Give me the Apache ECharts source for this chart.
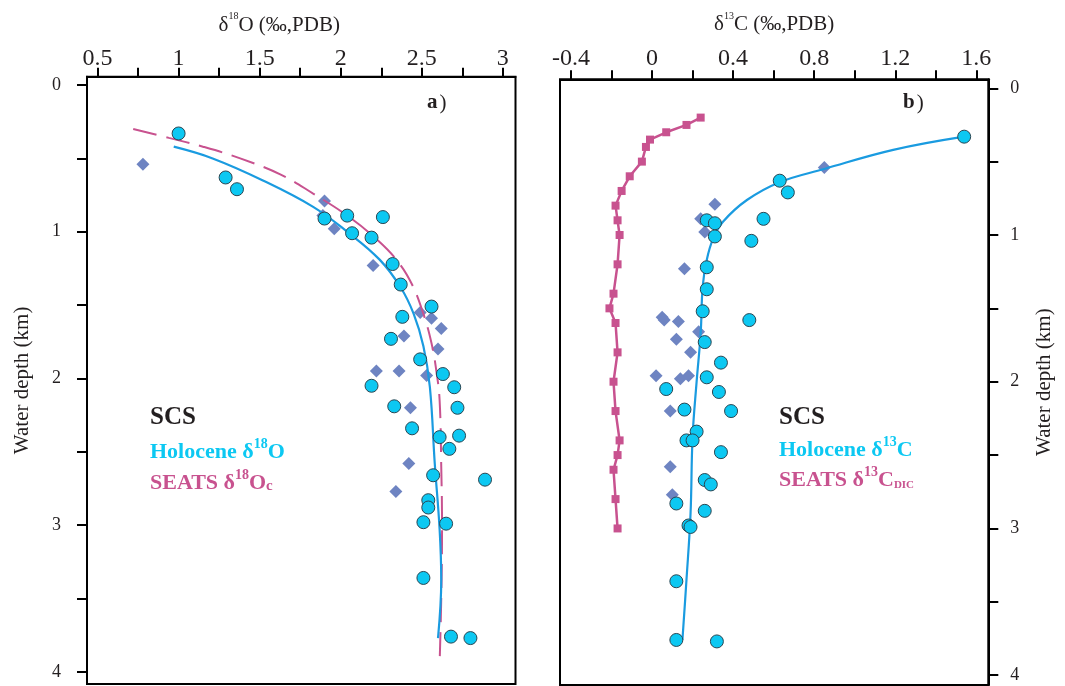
<!DOCTYPE html>
<html>
<head>
<meta charset="utf-8">
<script src="https://cdn.jsdelivr.net/npm/echarts@6/dist/echarts.min.js"></script>
<style>
  html, body { margin: 0; padding: 0; background: #fff; }
  #main { width: 1065px; height: 686px; }
</style>
</head>
<body>
<div id="main"></div>
<script>
// ---- tick values ----
var o18Ticks = [0.5, 0.75, 1, 1.25, 1.5, 1.75, 2, 2.25, 2.5, 2.75, 3];
var o18Labels = [0.5, 1, 1.5, 2, 2.5, 3];
var c13Ticks = [-0.4, -0.2, 0, 0.2, 0.4, 0.6, 0.8, 1, 1.2, 1.4, 1.6];
var c13Labels = [-0.4, 0, 0.4, 0.8, 1.2, 1.6];
var depthTicks = [0, 0.5, 1, 1.5, 2, 2.5, 3, 3.5, 4];
var depthLabels = [0, 1, 2, 3, 4];

// ---- panel a: d18O [value, depth km] ----
var holoO18 = [
  [1.00, 0.33], [1.29, 0.63], [1.36, 0.71], [1.90, 0.91], [2.04, 0.89], [2.26, 0.90],
  [2.07, 1.01], [2.19, 1.04], [2.32, 1.22], [2.37, 1.36], [2.56, 1.51], [2.38, 1.58],
  [2.31, 1.73], [2.49, 1.87], [2.63, 1.97], [2.19, 2.05], [2.70, 2.06], [2.33, 2.19],
  [2.72, 2.20], [2.44, 2.34], [2.61, 2.40], [2.73, 2.39], [2.67, 2.48], [2.57, 2.66],
  [2.89, 2.69], [2.54, 2.83], [2.54, 2.88], [2.51, 2.98], [2.65, 2.99], [2.51, 3.36],
  [2.68, 3.76], [2.80, 3.77]
];
var otherO18 = [
  [0.78, 0.54], [1.90, 0.79], [1.89, 0.89], [1.96, 0.98], [2.20, 1.23], [2.38, 1.58],
  [2.49, 1.55], [2.56, 1.59], [2.62, 1.66], [2.39, 1.71], [2.60, 1.80], [2.22, 1.95],
  [2.36, 1.95], [2.53, 1.98], [2.43, 2.20], [2.42, 2.58], [2.34, 2.77]
];
var fitO18 = [
  [0.97, 0.42], [1.21, 0.50], [1.52, 0.65], [1.83, 0.83], [2.04, 1.00], [2.24, 1.19],
  [2.37, 1.38], [2.45, 1.56], [2.51, 1.78], [2.55, 2.06], [2.58, 2.58], [2.61, 3.03],
  [2.62, 3.37], [2.60, 3.77]
];
var seatsO18 = [
  [0.72, 0.30], [0.94, 0.36], [1.15, 0.42], [1.38, 0.50], [1.63, 0.61], [1.83, 0.74],
  [2.04, 0.89], [2.22, 1.05], [2.35, 1.20], [2.44, 1.36], [2.51, 1.56], [2.56, 1.76],
  [2.59, 1.95], [2.61, 2.15], [2.62, 2.60], [2.625, 3.00], [2.62, 3.50], [2.61, 3.94]
];

// ---- panel b: d13C [value, depth km] ----
var holoC13 = [
  [1.54, 0.33], [0.63, 0.63], [0.67, 0.71], [0.55, 0.89], [0.27, 0.90], [0.31, 0.92],
  [0.31, 1.01], [0.49, 1.04], [0.27, 1.22], [0.27, 1.37], [0.25, 1.52], [0.48, 1.58],
  [0.26, 1.73], [0.34, 1.87], [0.27, 1.97], [0.07, 2.05], [0.33, 2.07], [0.16, 2.19],
  [0.39, 2.20], [0.22, 2.34], [0.17, 2.40], [0.20, 2.40], [0.34, 2.48], [0.26, 2.67],
  [0.29, 2.70], [0.12, 2.83], [0.26, 2.88], [0.18, 2.98], [0.19, 2.99], [0.12, 3.36],
  [0.12, 3.76], [0.32, 3.77]
];
var otherC13 = [
  [0.85, 0.54], [0.31, 0.79], [0.24, 0.89], [0.26, 0.98], [0.16, 1.23], [0.05, 1.56],
  [0.06, 1.58], [0.13, 1.59], [0.23, 1.66], [0.12, 1.71], [0.19, 1.80], [0.02, 1.96],
  [0.14, 1.98], [0.18, 1.96], [0.09, 2.20], [0.09, 2.58], [0.10, 2.77]
];
var fitC13 = [
  [1.54, 0.33], [1.19, 0.42], [0.85, 0.55], [0.63, 0.64], [0.47, 0.76], [0.35, 0.91],
  [0.30, 1.03], [0.27, 1.17], [0.25, 1.35], [0.24, 1.67], [0.22, 2.00], [0.20, 2.38],
  [0.19, 2.90], [0.17, 3.35], [0.15, 3.76]
];
var seatsC13 = [
  [0.24, 0.20], [0.17, 0.25], [0.07, 0.30], [-0.01, 0.35], [-0.03, 0.40], [-0.05, 0.50],
  [-0.11, 0.60], [-0.15, 0.70], [-0.18, 0.80], [-0.17, 0.90], [-0.16, 1.00], [-0.17, 1.20],
  [-0.19, 1.40], [-0.21, 1.50], [-0.18, 1.60], [-0.17, 1.80], [-0.19, 2.00], [-0.18, 2.20],
  [-0.16, 2.40], [-0.17, 2.50], [-0.19, 2.60], [-0.18, 2.80], [-0.17, 3.00]
];

var SERIF = '"Liberation Serif", "Times New Roman", serif';
var INK = '#231f20';
var CYAN = '#0cc8f2';
var FIT = '#1a9be0';
var DIAM = '#6e84c2';
var PINK = '#c8528f';

var nameRich = {
  t: { fontFamily: SERIF, fontSize: 21, color: INK, lineHeight: 24, verticalAlign: 'bottom' },
  s: { fontFamily: SERIF, fontSize: 10, color: INK, lineHeight: 10, verticalAlign: 'top' }
};

function xAxis(grid, min, max, ticks, labels, name, gap, margin, pad) {
  return {
    type: 'value', gridIndex: grid, position: 'top', min: min, max: max,
    name: name, nameLocation: 'middle', nameGap: gap,
    nameTextStyle: { fontFamily: SERIF, fontSize: 21, color: INK, rich: nameRich, padding: pad },
    axisLine: { onZero: false, lineStyle: { color: '#000', width: 2 } },
    axisTick: { show: true, length: 9, customValues: ticks, lineStyle: { color: '#000', width: 2 } },
    axisLabel: { customValues: labels, margin: margin, fontFamily: SERIF, fontSize: 24, color: INK,
      formatter: function (v) { return String(v); } },
    splitLine: { show: false }
  };
}

function yAxis(grid, pos, min, max, gap, margin) {
  return {
    type: 'value', gridIndex: grid, position: pos, inverse: true, min: min, max: max,
    name: 'Water depth (km)', nameLocation: 'middle', nameGap: gap, nameRotate: 90,
    nameTextStyle: { fontFamily: SERIF, fontSize: 21, color: INK },
    axisLine: { onZero: false, lineStyle: { color: '#000', width: 2 } },
    axisTick: { show: true, length: 10, customValues: depthTicks, lineStyle: { color: '#000', width: 2 } },
    axisLabel: { customValues: depthLabels, margin: margin, fontFamily: SERIF, fontSize: 18, color: INK },
    splitLine: { show: false }
  };
}

function legendText(x, y, text, rich) {
  return { type: 'text', x: x, y: y, silent: true,
    style: { text: text, rich: rich, verticalAlign: 'middle', align: 'left' } };
}

function legendRich(color) {
  return {
    m: { fontFamily: SERIF, fontSize: 22, fontWeight: 'bold', fill: color, lineHeight: 26, verticalAlign: 'bottom' },
    s: { fontFamily: SERIF, fontSize: 14, fontWeight: 'bold', fill: color, lineHeight: 14, verticalAlign: 'top' },
    c: { fontFamily: SERIF, fontSize: 15, fontWeight: 'bold', fill: color, lineHeight: 20, verticalAlign: 'bottom' },
    d: { fontFamily: SERIF, fontSize: 11, fontWeight: 'bold', fill: color, lineHeight: 19, verticalAlign: 'bottom' }
  };
}
var scsRich = { b: { fontFamily: SERIF, fontSize: 25, fontWeight: 'bold', fill: INK } };

function circles(data, gi) {
  return { type: 'scatter', xAxisIndex: gi, yAxisIndex: gi, data: data, symbol: 'circle', symbolSize: 13,
    itemStyle: { color: CYAN, borderColor: '#2b4652', borderWidth: 1, opacity: 1 }, z: 4 };
}
function diamonds(data, gi) {
  return { type: 'scatter', xAxisIndex: gi, yAxisIndex: gi, data: data, symbol: 'diamond', symbolSize: 13,
    itemStyle: { color: DIAM, opacity: 1 }, z: 2 };
}
function fitLine(data, gi) {
  return { type: 'line', xAxisIndex: gi, yAxisIndex: gi, data: data, smooth: 0.4, showSymbol: false, symbol: 'none',
    lineStyle: { color: FIT, width: 2.2 }, z: 3 };
}

var chart = echarts.init(document.getElementById('main'));
chart.setOption({
  animation: false,
  backgroundColor: '#fff',
  grid: [
    { left: 87, top: 76.7, width: 428.5, height: 607.3, show: true, borderColor: '#000', borderWidth: 2 },
    { left: 560, top: 79.3, width: 428.3, height: 605.7, show: true, borderColor: '#000', borderWidth: 2 }
  ],
  xAxis: [
    xAxis(0, 0.435, 3.078, o18Ticks, o18Labels, '{t|δ}{s|18}{t|O (‰,PDB)}', 41, 6, [0, 44, 0, 0]),
    xAxis(1, -0.454, 1.659, c13Ticks, c13Labels, '{t|δ}{s|13}{t|C (‰,PDB)}', 44, 9, [0, 0, 0, 0])
  ],
  yAxis: [
    yAxis(0, 'left', -0.057, 4.083, 54, 26),
    yAxis(1, 'right', -0.061, 4.067, 46, 22)
  ],
  graphic: [
    { type: 'text', x: 427, y: 103, style: { text: '{b|a}{p|)}', verticalAlign: 'middle',
      rich: { b: { fontFamily: SERIF, fontSize: 21, fontWeight: 'bold', fill: INK }, p: { fontFamily: SERIF, fontSize: 21, fill: INK, padding: [0, 0, 0, 2] } } } },
    { type: 'text', x: 903, y: 103, style: { text: '{b|b}{p|)}', verticalAlign: 'middle',
      rich: { b: { fontFamily: SERIF, fontSize: 21, fontWeight: 'bold', fill: INK }, p: { fontFamily: SERIF, fontSize: 21, fill: INK, padding: [0, 0, 0, 2] } } } },
    legendText(150, 418, '{b|SCS}', scsRich),
    legendText(150, 450, '{m|Holocene δ}{s|18}{m|O}', legendRich(CYAN)),
    legendText(150, 481, '{m|SEATS δ}{s|18}{m|O}{c|c}', legendRich(PINK)),
    legendText(779, 418, '{b|SCS}', scsRich),
    legendText(779, 448, '{m|Holocene δ}{s|13}{m|C}', legendRich(CYAN)),
    legendText(779, 478, '{m|SEATS δ}{s|13}{m|C}{d|DIC}', legendRich(PINK))
  ],
  series: [
    diamonds(otherO18, 0),
    { type: 'line', xAxisIndex: 0, yAxisIndex: 0, data: seatsO18, smooth: 0.4, showSymbol: false, symbol: 'none',
      lineStyle: { color: PINK, width: 2, type: [24, 10] }, z: 3 },
    fitLine(fitO18, 0),
    circles(holoO18, 0),

    diamonds(otherC13, 1),
    { type: 'line', xAxisIndex: 1, yAxisIndex: 1, data: seatsC13, symbol: 'rect', symbolSize: 8, showSymbol: true,
      lineStyle: { color: PINK, width: 2.5 }, itemStyle: { color: PINK }, z: 3 },
    fitLine(fitC13, 1),
    circles(holoC13, 1)
  ]
});
</script>
</body>
</html>
